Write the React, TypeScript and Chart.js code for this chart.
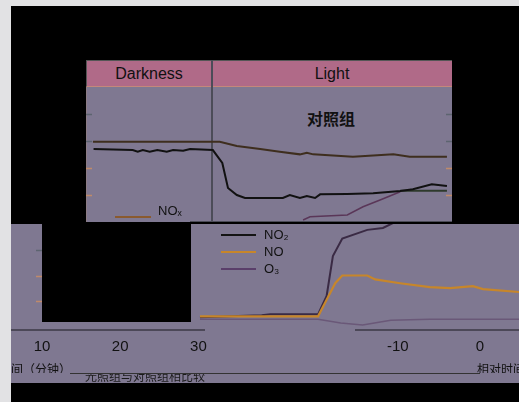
import { useEffect, useRef } from "react";
import { Chart, registerables } from "chart.js";

Chart.register(...registerables);

// ---------- text ----------
const phaseLabels = ["Darkness", "Light"];
const chartTitle = "对照组";
const topLegendLabel = "NOₓ";
const lowerLegendLabels = ["NO₂", "NO", "O₃"];
const xTickValues = [10, 20, 30, 55.5, 66];
const xTickLabels = ["10", "20", "30", "-10", "0"];
const topYMarks = [20, 40, 60, 80];
const lowerYMarks = [25, 50, 75];
const axisTitleLeft = "时间（分钟）";
const axisTitleMid = "光照组与对照组相比较";
const axisTitleRight = "相对时间";

// ---------- upper panel series ----------
const topNOxX = [1.1, 21.2, 23.9, 27.6, 30.7, 33.9, 35.0, 36.0, 42.3, 48.7, 51.3, 57.2];
const topNOxY = [59.5, 59.5, 56.3, 54.1, 52.1, 50.1, 51.3, 50.1, 48.4, 50.1, 48.4, 48.4];

const topNO2X = [1.2, 7.4, 8.2, 9.0, 10.1, 11.3, 12.8, 13.8, 15.4, 16.5, 20.1, 21.6, 22.5, 23.9, 25.2, 31.2, 32.3, 33.9, 35.0, 36.3, 37.1, 41.4, 45.5, 49.8, 51.8, 54.8, 57.2];
const topNO2Y = [54.0, 53.3, 52.1, 53.3, 52.1, 53.3, 52.1, 53.3, 52.8, 54.0, 53.3, 43.7, 25.2, 20.0, 17.8, 17.8, 20.0, 17.8, 19.3, 17.8, 20.5, 20.7, 21.3, 23.0, 24.2, 27.9, 26.7];

const topBaseX = [49.8, 57.2];
const topBaseY = [23.2, 23.2];

const topO3X = [34.4, 35.5, 41.4, 43.9, 46.6, 49.8];
const topO3Y = [1.5, 3.9, 5.2, 11.3, 16.3, 22.4];

// ---------- lower panel series ----------
const lowNO2X = [30.2, 38.1, 39.2, 45.3, 46.4, 47.2, 48.4, 51.6, 53.6, 55.4, 56.7];
const lowNO2Y = [9.4, 11.3, 12.3, 12.3, 30.2, 68.9, 85.8, 94.3, 96.2, 102.8, 102.8];

const lowNOX = [30.2, 45.3, 46.2, 47.5, 48.4, 51.6, 52.6, 55.8, 59.6, 62.2, 65.1, 66.4, 71];
const lowNOY = [10.4, 10.4, 23.6, 42.5, 50, 50, 46.2, 42.5, 38.7, 37.7, 39.6, 36.8, 34];

const lowO3X = [30.2, 45.3, 48.2, 51.0, 54.6, 59.6, 71];
const lowO3Y = [7.5, 7.5, 3.8, 1.9, 6.6, 7.5, 7.5];

const pts = (xs: number[], ys: number[]) => xs.map((x, i) => ({ x, y: ys[i] }));

const tickMarkPlugin = {
  id: "tickMarks",
  afterDatasetsDraw(chart: any, _args: any, opts: any) {
    if (!opts || !opts.values) return;
    const { ctx, chartArea, scales } = chart;
    const y = scales.y;
    ctx.save();
    ctx.lineWidth = 1.5;
    opts.values.forEach((v: number, i: number) => {
      const py = Math.round(y.getPixelForValue(v)) + 0.5;
      ctx.strokeStyle = opts.colors[i % opts.colors.length];
      ctx.beginPath();
      if (opts.left) {
        ctx.moveTo(chartArea.left + opts.left[0], py);
        ctx.lineTo(chartArea.left + opts.left[1], py);
      }
      if (opts.right) {
        ctx.moveTo(chartArea.right + opts.right[0], py);
        ctx.lineTo(chartArea.right + opts.right[1], py);
      }
      ctx.stroke();
    });
    ctx.restore();
  },
};

const lineDs = (label: string, data: any[], color: string, width = 2) => ({
  label,
  data,
  borderColor: color,
  backgroundColor: color,
  borderWidth: width,
  pointRadius: 0,
  tension: 0,
  clip: false as any,
});

const PANEL = "#7f7891";
const PINK = "#b06a88";

export default function App() {
  const topRef = useRef<HTMLCanvasElement | null>(null);
  const lowRef = useRef<HTMLCanvasElement | null>(null);

  useEffect(() => {
    const top = new Chart(topRef.current as HTMLCanvasElement, {
      type: "line",
      data: {
        datasets: [
          lineDs("NOx", pts(topNOxX, topNOxY), "#3e2e1e"),
          lineDs("NO2", pts(topNO2X, topNO2Y), "#111111"),
          lineDs("base", pts(topBaseX, topBaseY), "#2e3a2c"),
          lineDs("O3", pts(topO3X, topO3Y), "#5a3658", 1.5),
        ] as any,
      },
      options: {
        animation: false,
        responsive: false,
        maintainAspectRatio: false,
        events: [],
        layout: { padding: 0 },
        scales: {
          x: { type: "linear", min: 0, max: 58, display: false },
          y: { min: 0, max: 100, display: false },
        },
        plugins: {
          legend: { display: false },
          tooltip: { enabled: false },
          tickMarks: {
            values: topYMarks,
            colors: ["#c08a6a", "#c08a6a", "#5d6470", "#5d6470"],
            left: [0, 6],
            right: [-6, 0],
          },
        } as any,
      },
      plugins: [tickMarkPlugin],
    });

    const low = new Chart(lowRef.current as HTMLCanvasElement, {
      type: "line",
      data: {
        datasets: [
          lineDs("O3", pts(lowO3X, lowO3Y), "#6a5878", 1.5),
          lineDs("NO", pts(lowNOX, lowNOY), "#c7862a", 2.2),
          lineDs("NO2", pts(lowNO2X, lowNO2Y), "#3a2a44"),
        ] as any,
      },
      options: {
        animation: false,
        responsive: false,
        maintainAspectRatio: false,
        events: [],
        layout: { padding: { left: 31, right: 0, top: 0, bottom: 0 } },
        scales: {
          x: {
            type: "linear",
            min: 10,
            max: 71,
            position: "bottom",
            grid: { display: false, drawTicks: false },
            border: { display: false },
            afterBuildTicks: (axis: any) => {
              axis.ticks = xTickValues.map((v) => ({ value: v }));
            },
            ticks: {
              autoSkip: false,
              maxRotation: 0,
              padding: 11,
              color: "#111111",
              font: { size: 15, family: "'Liberation Sans', Arial, sans-serif" },
              callback: (_v: any, i: number) => xTickLabels[i],
            },
          },
          y: { min: 0, max: 100, display: false },
        },
        plugins: {
          legend: { display: false },
          tooltip: { enabled: false },
          tickMarks: {
            values: lowerYMarks,
            colors: ["#c08a6a", "#c08a6a", "#5d6470"],
            left: [-6, 0],
          },
        } as any,
      },
      plugins: [tickMarkPlugin],
    });

    return () => {
      top.destroy();
      low.destroy();
    };
  }, []);

  const font = "'Liberation Sans', Arial, sans-serif";
  const abs = (s: any) => ({ position: "absolute" as const, ...s });

  return (
    <div
      style={{
        position: "fixed",
        left: 0,
        top: 0,
        width: 519,
        height: 402,
        background: "#e2e2e4",
        overflow: "hidden",
        fontFamily: font,
      }}
    >
      {/* black field */}
      <div style={abs({ left: 11, top: 6, width: 508, height: 396, background: "#000" })} />

      {/* upper panel */}
      <div
        style={abs({
          left: 86,
          top: 60,
          width: 366,
          height: 162,
          background: PANEL,
          borderLeft: "1px solid #8c7c84",
          boxSizing: "border-box",
        })}
      />
      <div
        style={abs({
          left: 86,
          top: 60,
          width: 366,
          height: 27,
          background: PINK,
          borderTop: "1px solid #555",
          borderLeft: "1px solid #555",
          borderBottom: "1px solid #c4887a",
          boxSizing: "border-box",
        })}
      />
      <div style={abs({ left: 86, top: 60, width: 126, height: 27, lineHeight: "27px", textAlign: "center", fontSize: 16, color: "#111" })}>
        {phaseLabels[0]}
      </div>
      <div style={abs({ left: 212, top: 60, width: 240, height: 27, lineHeight: "27px", textAlign: "center", fontSize: 16, color: "#111" })}>
        {phaseLabels[1]}
      </div>
      <div style={abs({ left: 211, top: 60, width: 2, height: 162, background: "#4c4c58" })} />
      <div style={abs({ left: 190, top: 221, width: 262, height: 1, background: "#4c4c58" })} />
      <div style={abs({ left: 281, top: 108, width: 100, textAlign: "center", fontSize: 16, fontWeight: "bold", color: "#111", fontFamily: "'Noto Sans CJK SC', sans-serif", lineHeight: "20px" })}>
        {chartTitle}
      </div>
      <canvas ref={topRef} width={366} height={135} style={abs({ left: 86, top: 87, width: 366, height: 135 })} />
      {/* upper legend */}
      <div style={abs({ left: 115, top: 216, width: 36, height: 2, background: "#8a5a2e" })} />
      <div style={abs({ left: 158, top: 203, fontSize: 13, color: "#111", lineHeight: "16px" })}>{topLegendLabel}</div>

      {/* lower panel */}
      <div style={abs({ left: 11, top: 224, width: 508, height: 159, background: PANEL })} />
      <div style={abs({ left: 11, top: 329, width: 194, height: 2, background: "#4c4858" })} />
      <div style={abs({ left: 355, top: 329, width: 164, height: 2, background: "#4c4858" })} />
      <canvas ref={lowRef} width={508} height={143} style={abs({ left: 11, top: 224, width: 508, height: 143 })} />
      <div style={abs({ left: 42, top: 222, width: 149, height: 100, background: "#000" })} />

      {/* lower legend */}
      {lowerLegendLabels.map((lab, i) => (
        <div key={lab}>
          <div
            style={abs({
              left: 221,
              top: 234 + i * 17,
              width: 35,
              height: 2,
              background: ["#141414", "#c7862a", "#5a3f6a"][i],
            })}
          />
          <div style={abs({ left: 264, top: 227 + i * 17, fontSize: 13, lineHeight: "16px", color: "#111" })}>{lab}</div>
        </div>
      ))}

      {/* bottom axis titles */}
      <div style={abs({ left: 11, top: 362, width: 62, height: 11, overflow: "hidden" })}>
        <div style={{ marginLeft: -12, fontSize: 12, lineHeight: "13px", color: "#111", whiteSpace: "nowrap", fontFamily: "'Noto Sans CJK SC', sans-serif" }}>
          {axisTitleLeft}
        </div>
      </div>
      <div style={abs({ left: 70, top: 373, width: 410, height: 1, background: "#333" })} />
      <div style={abs({ left: 85, top: 374, width: 122, height: 8, overflow: "hidden" })}>
        <div style={{ marginTop: -5, fontSize: 12, lineHeight: "13px", color: "#1a1a1a", whiteSpace: "nowrap", fontFamily: "'Noto Sans CJK SC', sans-serif" }}>
          {axisTitleMid}
        </div>
      </div>
      <div style={abs({ left: 477, top: 362, width: 42, height: 11, overflow: "hidden" })}>
        <div style={{ fontSize: 12, lineHeight: "13px", color: "#111", whiteSpace: "nowrap", fontFamily: "'Noto Sans CJK SC', sans-serif" }}>
          {axisTitleRight}
        </div>
      </div>
    </div>
  );
}
